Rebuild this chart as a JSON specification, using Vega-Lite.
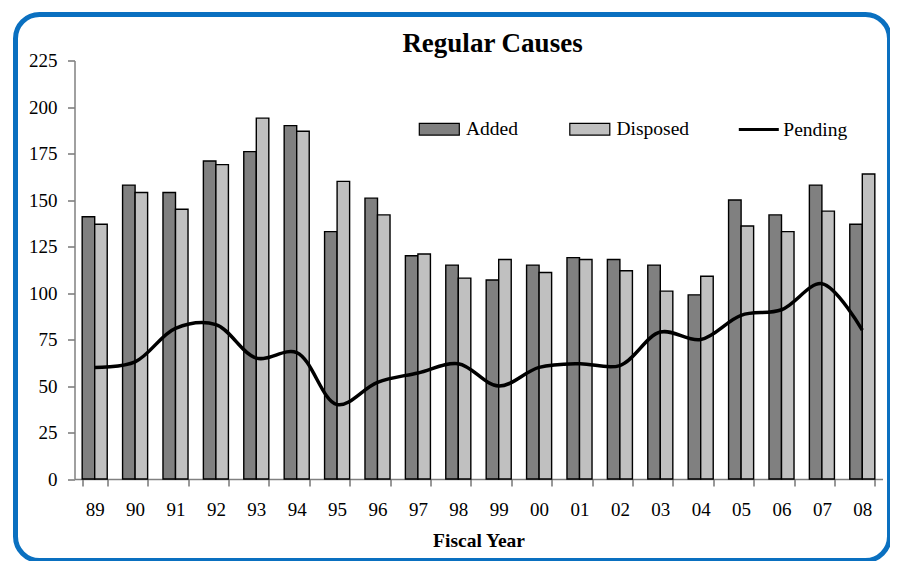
{
  "$schema": "https://vega.github.io/schema/vega-lite/v6.json",
  "width": 874,
  "height": 546,
  "autosize": {"type": "none"},
  "padding": {"left": 15.5, "top": 14.5, "right": 0, "bottom": 0},
  "background": "white",
  "config": {
    "view": {"stroke": "#0a70c0", "strokeWidth": 5, "cornerRadius": 24},
    "font": "Liberation Serif",
    "axis": {
      "grid": false,
      "labelFont": "Liberation Serif",
      "labelFontSize": 19,
      "labelColor": "black",
      "titleFont": "Liberation Serif",
      "titleColor": "black",
      "domainColor": "#808080",
      "domainWidth": 1.5,
      "tickColor": "#333333",
      "tickWidth": 1,
      "tickSize": 7
    },
    "legend": {
      "orient": "none",
      "direction": "horizontal",
      "padding": 0,
      "labelFont": "Liberation Serif",
      "labelFontSize": 19.5,
      "labelColor": "black",
      "labelBaseline": "middle"
    }
  },
  "title": {
    "text": "Regular Causes",
    "font": "Liberation Serif",
    "fontSize": 27,
    "fontWeight": "bold",
    "color": "black",
    "anchor": "middle",
    "frame": "group",
    "offset": 0,
    "dx": 40,
    "dy": 43
  },
  "data": {
    "values": [
      {"year": "89", "Added": 141, "Disposed": 137, "Pending": 60},
      {"year": "90", "Added": 158, "Disposed": 154, "Pending": 63},
      {"year": "91", "Added": 154, "Disposed": 145, "Pending": 81},
      {"year": "92", "Added": 171, "Disposed": 169, "Pending": 83},
      {"year": "93", "Added": 176, "Disposed": 194, "Pending": 65},
      {"year": "94", "Added": 190, "Disposed": 187, "Pending": 68},
      {"year": "95", "Added": 133, "Disposed": 160, "Pending": 40},
      {"year": "96", "Added": 151, "Disposed": 142, "Pending": 52},
      {"year": "97", "Added": 120, "Disposed": 121, "Pending": 57},
      {"year": "98", "Added": 115, "Disposed": 108, "Pending": 62},
      {"year": "99", "Added": 107, "Disposed": 118, "Pending": 50},
      {"year": "00", "Added": 115, "Disposed": 111, "Pending": 60},
      {"year": "01", "Added": 119, "Disposed": 118, "Pending": 62},
      {"year": "02", "Added": 118, "Disposed": 112, "Pending": 61},
      {"year": "03", "Added": 115, "Disposed": 101, "Pending": 79},
      {"year": "04", "Added": 99, "Disposed": 109, "Pending": 75},
      {"year": "05", "Added": 150, "Disposed": 136, "Pending": 88},
      {"year": "06", "Added": 142, "Disposed": 133, "Pending": 91},
      {"year": "07", "Added": 158, "Disposed": 144, "Pending": 105},
      {"year": "08", "Added": 137, "Disposed": 164, "Pending": 80}
    ]
  },
  "layer": [
    {
      "transform": [{"fold": ["Added", "Disposed"], "as": ["series", "value"]}],
      "mark": {"type": "bar", "stroke": "black", "strokeWidth": 1.4, "opacity": 1},
      "encoding": {
        "x": {
          "field": "year",
          "type": "nominal",
          "sort": null,
          "scale": {
            "domain": ["89","90","91","92","93","94","95","96","97","98","99","00","01","02","03","04","05","06","07","08"],
            "range": [59, 867],
            "paddingInner": 0.38,
            "paddingOuter": 0.19
          },
          "axis": {
            "title": "Fiscal Year",
            "titleFont": "Liberation Serif",
            "titleFontSize": 19.5,
            "titleFontWeight": "bold",
            "titleBaseline": "alphabetic",
            "titleY": 67.7,
            "labelFont": "Liberation Serif",
            "labelFontSize": 19,
            "labelAngle": 0,
            "tickBand": "extent",
            "labelPadding": 14.5,
            "offset": -81.5
          }
        },
        "xOffset": {
          "field": "series",
          "type": "nominal",
          "scale": {"domain": ["Added", "Disposed"], "paddingInner": 0, "paddingOuter": 0}
        },
        "y": {
          "field": "value",
          "type": "quantitative",
          "scale": {"domain": [0, 225], "range": [464.5, 46], "nice": false},
          "axis": {
            "title": null,
            "labelFont": "Liberation Serif",
            "labelFontSize": 19,
            "values": [0, 25, 50, 75, 100, 125, 150, 175, 200, 225],
            "labelPadding": 10.5,
            "offset": -59
          }
        },
        "fill": {
          "field": "series",
          "type": "nominal",
          "scale": {"domain": ["Added", "Disposed"], "range": ["#808080", "#c0c0c0"]},
          "legend": {
            "title": null,
            "legendX": 402.8,
            "legendY": 93.5,
            "symbolType": "M-1,-0.29H1V0.29H-1Z",
            "symbolSize": 1600,
            "symbolStrokeColor": "black",
            "symbolStrokeWidth": 1.2,
            "symbolOpacity": 1,
            "labelOffset": 5.7,
            "columnPadding": 48.5
          }
        }
      }
    },
    {
      "mark": {"type": "line", "interpolate": "catmull-rom", "strokeWidth": 3.5},
      "encoding": {
        "x": {"field": "year", "type": "nominal", "sort": null},
        "y": {"field": "Pending", "type": "quantitative"},
        "stroke": {
          "datum": "Pending",
          "scale": {"domain": ["Pending"], "range": ["black"]},
          "legend": {
            "title": null,
            "legendX": 721.8,
            "legendY": 93.5,
            "symbolType": "stroke",
            "symbolSize": 1600,
            "symbolStrokeWidth": 3,
            "labelOffset": 3
          }
        }
      }
    }
  ]
}
